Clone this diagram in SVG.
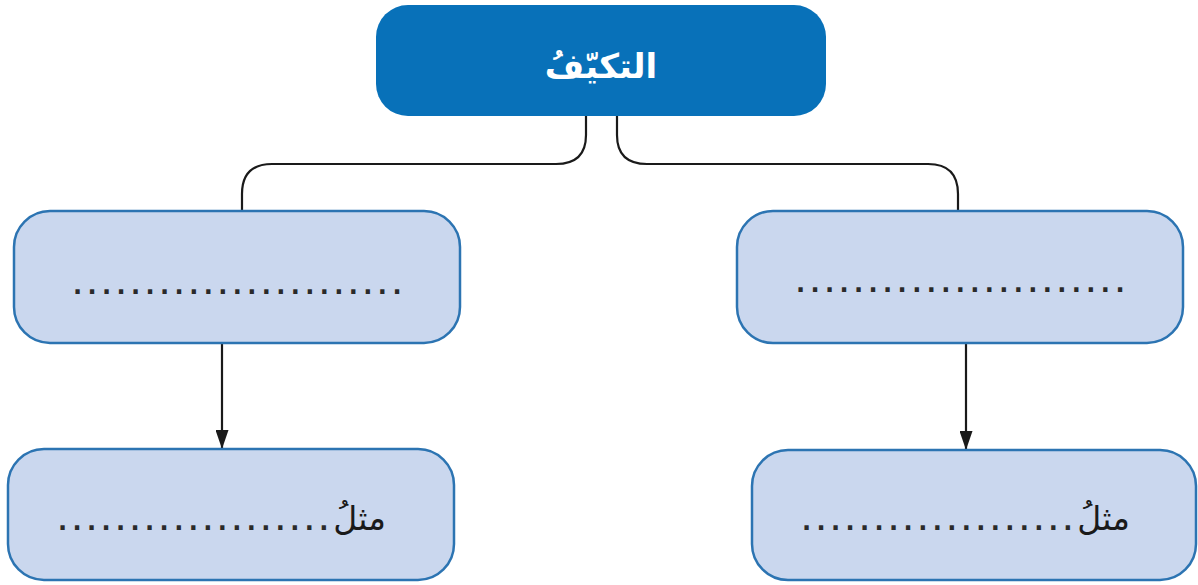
<svg xmlns="http://www.w3.org/2000/svg" width="1198" height="585" viewBox="0 0 1198 585">
<style>
.box{fill:#cad7ee;stroke:#2c74b2;stroke-width:2.5}
.top{fill:#0871b9}
.conn{fill:none;stroke:#1a1a1a;stroke-width:2.2}
.dots{font-family:"DejaVu Sans",sans-serif;font-size:24px;font-weight:bold;fill:#2a2a2a;letter-spacing:5.4px}
.ar{font-family:"DejaVu Sans",sans-serif;font-size:33px;fill:#1a1a1a}
.title{font-family:"DejaVu Sans",sans-serif;font-size:34px;fill:#ffffff;font-weight:bold}
</style>
<defs>
<marker id="ah" markerWidth="19" markerHeight="13" refX="19" refY="6.5" orient="auto" markerUnits="userSpaceOnUse" viewBox="0 0 19 13">
<path d="M0,0 L19,6.5 L0,13 Z" fill="#1a1a1a"/>
</marker>
</defs>
<rect width="1198" height="585" fill="#ffffff"/>
<g id="connectors">
<path class="conn" d="M586,116 V135 Q586,164 556,164 H272 Q242,164 242,194 V211"/>
<path class="conn" d="M617,116 V135 Q617,164 647,164 H928 Q958,164 958,194 V211"/>
<line class="conn" x1="222" y1="343" x2="222" y2="449" marker-end="url(#ah)"/>
<line class="conn" x1="966" y1="343" x2="966" y2="450" marker-end="url(#ah)"/>
</g>
<g id="node-top">
<rect class="top" x="376" y="5" width="450" height="111" rx="32"/>
<text class="title" x="601" y="78" text-anchor="middle">التكيّفُ</text>
</g>
<g id="node-mid-left">
<rect class="box" x="14" y="211" width="446" height="132" rx="36"/>
<text class="dots" x="73" y="294">.......................</text>
</g>
<g id="node-mid-right">
<rect class="box" x="737" y="211" width="446" height="132" rx="36"/>
<text class="dots" x="796" y="292">.......................</text>
</g>
<g id="node-bot-left">
<rect class="box" x="8" y="449" width="446" height="131" rx="36"/>
<text class="ar" x="386" y="530" text-anchor="end">مثلُ</text>
<text class="dots" x="58" y="530">...................</text>
</g>
<g id="node-bot-right">
<rect class="box" x="752" y="450" width="444" height="130" rx="36"/>
<text class="ar" x="1130" y="530" text-anchor="end">مثلُ</text>
<text class="dots" x="802" y="530">...................</text>
</g>
</svg>
